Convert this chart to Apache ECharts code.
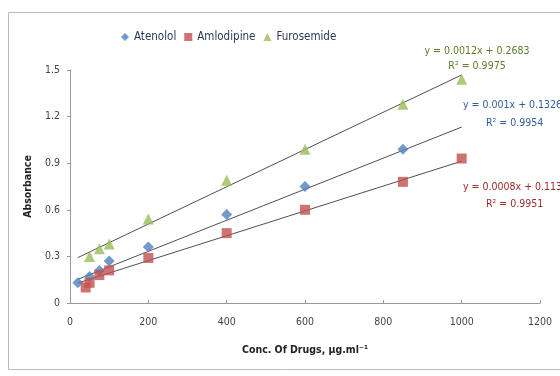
<!DOCTYPE html>
<html><head><meta charset="utf-8">
<script src="https://cdn.jsdelivr.net/npm/echarts@6/dist/echarts.min.js"></script>
<style>html,body{margin:0;padding:0;background:#fff}#c{width:560px;height:376px}</style>
</head><body><div id="c"></div>
<script>
const seriesNames = ['Atenolol', 'Amlodipine', 'Furosemide'];
const atenololX = [20, 50, 75, 100, 200, 400, 600, 850];
const atenololY = [0.13, 0.17, 0.21, 0.27, 0.36, 0.57, 0.75, 0.99];
const amlodipineX = [40, 50, 75, 100, 200, 400, 600, 850, 1000];
const amlodipineY = [0.10, 0.13, 0.18, 0.21, 0.29, 0.45, 0.60, 0.78, 0.93];
const furosemideX = [50, 75, 100, 200, 400, 600, 850, 1000];
const furosemideY = [0.30, 0.35, 0.38, 0.54, 0.79, 0.99, 1.28, 1.44];
const slopes = [0.001, 0.0008, 0.0012];
const intercepts = [0.1326, 0.113, 0.2683];
const trendRange = [20, 1000];
const eqTexts = ['y = 0.001x + 0.1326', 'y = 0.0008x + 0.113', 'y = 0.0012x + 0.2683'];
const r2Texts = ['R² = 0.9954', 'R² = 0.9951', 'R² = 0.9975'];

const colors = ['#4F81BD', '#C0504D', '#9BBB59'];
const textColors = ['#2E5E9A', '#9B2B2B', '#5F7A2A'];
const symbols = ['diamond', 'rect', 'triangle'];
const font = '"Liberation Sans Narrow", "DejaVu Sans Condensed", sans-serif';
const xs = [atenololX, amlodipineX, furosemideX];
const ys = [atenololY, amlodipineY, furosemideY];

const series = [];
seriesNames.forEach((n, i) => {
  series.push({
    name: n, type: 'scatter', symbol: symbols[i], symbolSize: symbols[i]==='rect'?10:11,
    itemStyle: {color: colors[i]},
    data: xs[i].map((x, k) => [x, ys[i][k]]), z: 3
  });
  series.push({
    name: n + ' trend', type: 'line', symbol: 'none', silent: true,
    lineStyle: {color: '#505050', width: 1},
    data: trendRange.map(x => [x, slopes[i] * x + intercepts[i]]), z: 2
  });
});

const tf = '10.5px ' + font;
const chart = echarts.init(document.getElementById('c'));
chart.setOption({
  animation: false,
  backgroundColor: '#fff',
  grid: {left: 70, right: 20, top: 70, bottom: 73},
  legend: {
    data: seriesNames, top: 26, left: 116, itemWidth: 8, itemHeight: 8, itemGap: 8,
    textStyle: {fontFamily: font, fontSize: 11.5, color: '#2a3a5a'}
  },
  xAxis: {
    type: 'value', min: 0, max: 1200, interval: 200,
    name: 'Conc. Of Drugs, µg.ml⁻¹', nameLocation: 'middle', nameGap: 42,
    nameTextStyle: {fontFamily: font, fontSize: 10.5, fontWeight: 'bold', color: '#222'},
    axisLine: {lineStyle: {color: '#999'}},
    axisTick: {show: true, inside: true, length: 3, lineStyle: {color: '#999'}},
    axisLabel: {fontFamily: font, fontSize: 10.5, color: '#444', margin: 14, formatter: v => String(v)},
    splitLine: {show: false}
  },
  yAxis: {
    type: 'value', min: 0, max: 1.5, interval: 0.3,
    name: 'Absorbance', nameLocation: 'middle', nameGap: 31,
    nameTextStyle: {fontFamily: font, fontSize: 10.5, fontWeight: 'bold', color: '#222'},
    axisLine: {show: true, lineStyle: {color: '#999'}},
    axisTick: {show: true, length: 3, lineStyle: {color: '#999'}},
    axisLabel: {fontFamily: font, fontSize: 10.5, color: '#444', margin: 10,
      formatter: v => String(Math.round(v * 10) / 10)},
    splitLine: {show: false}
  },
  graphic: [
    {type: 'rect', shape: {x: 8.5, y: 12.5, width: 560, height: 357}, style: {fill: 'none', stroke: '#bbb', lineWidth: 1}, silent: true, z: -1},
    {type: 'text', x: 477, y: 51, style: {text: eqTexts[2], font: tf, fill: textColors[2], align: 'center', verticalAlign: 'middle'}},
    {type: 'text', x: 477, y: 66, style: {text: r2Texts[2], font: tf, fill: textColors[2], align: 'center', verticalAlign: 'middle'}},
    {type: 'text', x: 463, y: 105, style: {text: eqTexts[0], font: tf, fill: textColors[0], verticalAlign: 'middle'}},
    {type: 'text', x: 486, y: 123, style: {text: r2Texts[0], font: tf, fill: textColors[0], verticalAlign: 'middle'}},
    {type: 'text', x: 463, y: 187, style: {text: eqTexts[1], font: tf, fill: textColors[1], verticalAlign: 'middle'}},
    {type: 'text', x: 486, y: 204, style: {text: r2Texts[1], font: tf, fill: textColors[1], verticalAlign: 'middle'}}
  ],
  series: series
});
</script></body></html>
